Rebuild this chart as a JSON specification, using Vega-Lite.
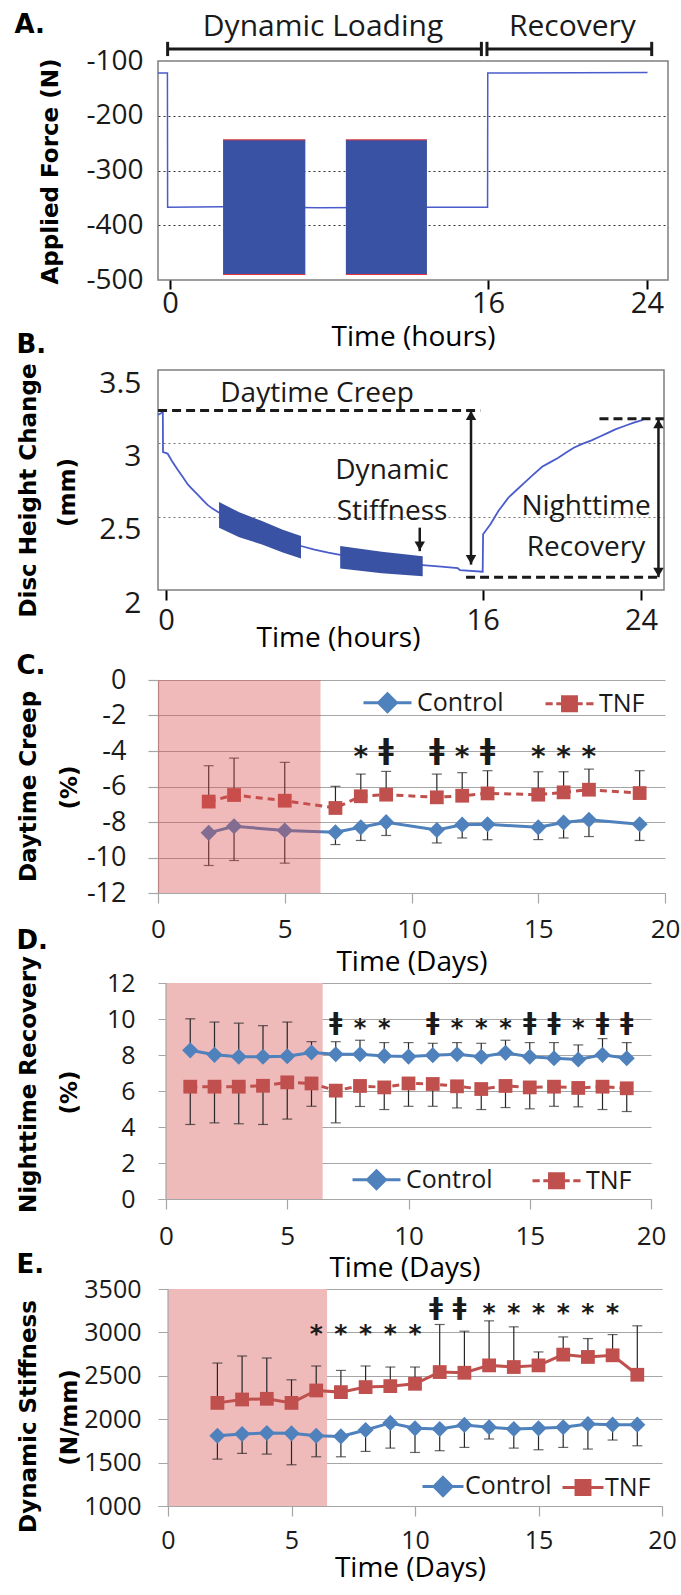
{
 "$schema": "https://vega.github.io/schema/vega-lite/v6.json",
 "background": "white",
 "padding": {"left": 13, "top": 10, "right": 5, "bottom": 0},
 "bounds": "flush",
 "spacing": 90,
 "datasets": {
  "lineA": [{"t":-0.6,"v":-122},{"t":-0.13,"v":-122},{"t":-0.12,"v":-367},{"t":2.7,"v":-366},{"t":7.5,"v":-368},{"t":12.9,"v":-367},{"t":15.98,"v":-367},{"t":15.99,"v":-122},{"t":24.03,"v":-121}],
  "blocksA": [{"t":2.67,"t2":6.81,"v":-244,"v2":-490},{"t":8.85,"t2":12.93,"v":-244,"v2":-490}],
  "edgesA": [{"t":2.67,"t2":6.81,"v":-244},{"t":2.67,"t2":6.81,"v":-490},{"t":8.85,"t2":12.93,"v":-244},{"t":8.85,"t2":12.93,"v":-490}],
  "bracketA": [{"t":-0.12,"t2":15.67,"v":-78,"v2":-78},{"t":15.95,"t2":24.24,"v":-78,"v2":-78},{"t":-0.12,"t2":-0.12,"v":-65,"v2":-91},{"t":15.67,"t2":15.67,"v":-65,"v2":-91},{"t":15.95,"t2":15.95,"v":-65,"v2":-91},{"t":24.24,"t2":24.24,"v":-65,"v2":-91}],
  "textA": [{"t":7.7,"v":-54,"label":"Dynamic Loading"},{"t":20.25,"v":-54,"label":"Recovery"}],
  "lineB": [{"t":-0.4,"v":3.195},{"t":-0.25,"v":3.205},{"t":-0.16,"v":3.215},{"t":-0.15,"v":2.94},{"t":0.08,"v":2.93},{"t":0.3,"v":2.88},{"t":0.59,"v":2.82},{"t":0.85,"v":2.77},{"t":1.1,"v":2.72},{"t":1.35,"v":2.685},{"t":1.6,"v":2.65},{"t":1.85,"v":2.615},{"t":2.1,"v":2.58},{"t":2.35,"v":2.555},{"t":2.65,"v":2.53},{"t":4.7,"v":2.38},{"t":6.82,"v":2.3},{"t":7.5,"v":2.275},{"t":8.2,"v":2.255},{"t":8.8,"v":2.24},{"t":10.9,"v":2.19},{"t":12.97,"v":2.17},{"t":13.9,"v":2.16},{"t":14.74,"v":2.15},{"t":14.85,"v":2.135},{"t":16.0,"v":2.125},{"t":16.02,"v":2.38},{"t":16.4,"v":2.45},{"t":16.8,"v":2.54},{"t":17.3,"v":2.63},{"t":17.7,"v":2.68},{"t":18.1,"v":2.73},{"t":18.5,"v":2.78},{"t":19.0,"v":2.84},{"t":19.4,"v":2.87},{"t":19.8,"v":2.9},{"t":20.2,"v":2.935},{"t":20.6,"v":2.97},{"t":21.0,"v":2.995},{"t":21.5,"v":3.02},{"t":21.9,"v":3.045},{"t":22.3,"v":3.07},{"t":22.7,"v":3.095},{"t":23.2,"v":3.12},{"t":23.6,"v":3.14},{"t":24.1,"v":3.16}],
  "blocksB": [{"b":1,"t":2.68,"v":2.6,"v2":2.425},{"b":1,"t":3.7,"v":2.53,"v2":2.36},{"b":1,"t":4.85,"v":2.47,"v2":2.31},{"b":1,"t":5.9,"v":2.41,"v2":2.255},{"b":1,"t":6.82,"v":2.368,"v2":2.214},{"b":2,"t":8.8,"v":2.3,"v2":2.146},{"b":2,"t":10.9,"v":2.26,"v2":2.115},{"b":2,"t":12.97,"v":2.23,"v2":2.094}],
  "dashB": [{"t":-0.4,"t2":15.88,"v":3.224},{"t":21.9,"t2":25.15,"v":3.167},{"t":15.16,"t2":25.0,"v":2.087}],
  "arrowsB": [{"t":15.41,"v":3.224,"v2":2.173},{"t":24.88,"v":3.167,"v2":2.087},{"t":12.82,"v":2.425,"v2":2.265}],
  "headsB": [{"t":15.41,"v":3.19,"d":"up"},{"t":15.41,"v":2.207,"d":"down"},{"t":24.88,"v":3.133,"d":"up"},{"t":24.88,"v":2.121,"d":"down"},{"t":12.82,"v":2.3,"d":"down"}],
  "textB": [{"t":7.63,"v":3.28,"label":"Daytime Creep"},{"t":11.42,"v":2.755,"label":"Dynamic"},{"t":11.42,"v":2.475,"label":"Stiffness"},{"t":21.22,"v":2.51,"label":"Nighttime"},{"t":21.22,"v":2.23,"label":"Recovery"}],
  "dC": [
   {"s":"Control","t":2,"v":-8.61,"e":-10.45},{"s":"Control","t":3,"v":-8.24,"e":-10.17},{"s":"Control","t":5,"v":-8.48,"e":-10.32},{"s":"Control","t":7,"v":-8.58,"e":-9.27},{"s":"Control","t":8,"v":-8.3,"e":-9.04},{"s":"Control","t":9,"v":-8.01,"e":-8.76},{"s":"Control","t":11,"v":-8.45,"e":-9.18},{"s":"Control","t":12,"v":-8.15,"e":-8.9},{"s":"Control","t":13,"v":-8.13,"e":-9.0},{"s":"Control","t":15,"v":-8.3,"e":-8.99},{"s":"Control","t":16,"v":-8.03,"e":-8.9},{"s":"Control","t":17,"v":-7.88,"e":-8.82},{"s":"Control","t":19,"v":-8.13,"e":-9.04},
   {"s":"TNF","t":2,"v":-6.85,"e":-4.83},{"s":"TNF","t":3,"v":-6.48,"e":-4.4},{"s":"TNF","t":5,"v":-6.8,"e":-4.64},{"s":"TNF","t":7,"v":-7.21,"e":-5.99},{"s":"TNF","t":8,"v":-6.55,"e":-5.3},{"s":"TNF","t":9,"v":-6.46,"e":-5.15},{"s":"TNF","t":11,"v":-6.61,"e":-5.3},{"s":"TNF","t":12,"v":-6.52,"e":-5.22},{"s":"TNF","t":13,"v":-6.39,"e":-5.11},{"s":"TNF","t":15,"v":-6.46,"e":-5.17},{"s":"TNF","t":16,"v":-6.33,"e":-5.17},{"s":"TNF","t":17,"v":-6.18,"e":-5.02},{"s":"TNF","t":19,"v":-6.37,"e":-5.11}],
  "sigC": [{"t":8,"v":-4,"m":"*"},{"t":9,"v":-4,"m":"ǂ"},{"t":11,"v":-4,"m":"ǂ"},{"t":12,"v":-4,"m":"*"},{"t":13,"v":-4,"m":"ǂ"},{"t":15,"v":-4,"m":"*"},{"t":16,"v":-4,"m":"*"},{"t":17,"v":-4,"m":"*"}],
  "pinkC": [{"t":0,"t2":6.41,"v":0,"v2":-12}],
  "dD": [
   {"s":"Control","t":1,"v":8.26,"e":10.01},{"s":"Control","t":2,"v":8.01,"e":9.83},{"s":"Control","t":3,"v":7.9,"e":9.77},{"s":"Control","t":4,"v":7.9,"e":9.63},{"s":"Control","t":5,"v":7.93,"e":9.83},{"s":"Control","t":6,"v":8.14,"e":8.74},{"s":"Control","t":7,"v":8.04,"e":8.74},{"s":"Control","t":8,"v":8.04,"e":8.82},{"s":"Control","t":9,"v":7.95,"e":8.69},{"s":"Control","t":10,"v":7.91,"e":8.69},{"s":"Control","t":11,"v":7.99,"e":8.65},{"s":"Control","t":12,"v":8.04,"e":8.69},{"s":"Control","t":13,"v":7.9,"e":8.65},{"s":"Control","t":14,"v":8.12,"e":8.82},{"s":"Control","t":15,"v":7.9,"e":8.69},{"s":"Control","t":16,"v":7.82,"e":8.69},{"s":"Control","t":17,"v":7.75,"e":8.56},{"s":"Control","t":18,"v":8.01,"e":8.91},{"s":"Control","t":19,"v":7.82,"e":8.69},
   {"s":"TNF","t":1,"v":6.24,"e":4.14},{"s":"TNF","t":2,"v":6.24,"e":4.23},{"s":"TNF","t":3,"v":6.24,"e":4.18},{"s":"TNF","t":4,"v":6.29,"e":4.14},{"s":"TNF","t":5,"v":6.48,"e":4.44},{"s":"TNF","t":6,"v":6.42,"e":5.15},{"s":"TNF","t":7,"v":6.02,"e":4.23},{"s":"TNF","t":8,"v":6.28,"e":5.14},{"s":"TNF","t":9,"v":6.2,"e":4.97},{"s":"TNF","t":10,"v":6.42,"e":5.15},{"s":"TNF","t":11,"v":6.39,"e":5.15},{"s":"TNF","t":12,"v":6.26,"e":5.06},{"s":"TNF","t":13,"v":6.11,"e":4.97},{"s":"TNF","t":14,"v":6.28,"e":5.08},{"s":"TNF","t":15,"v":6.2,"e":5.01},{"s":"TNF","t":16,"v":6.24,"e":5.15},{"s":"TNF","t":17,"v":6.17,"e":5.12},{"s":"TNF","t":18,"v":6.24,"e":4.97},{"s":"TNF","t":19,"v":6.15,"e":4.86}],
  "sigD": [{"t":7,"v":9.8,"m":"ǂ"},{"t":8,"v":9.8,"m":"*"},{"t":9,"v":9.8,"m":"*"},{"t":11,"v":9.8,"m":"ǂ"},{"t":12,"v":9.8,"m":"*"},{"t":13,"v":9.8,"m":"*"},{"t":14,"v":9.8,"m":"*"},{"t":15,"v":9.8,"m":"ǂ"},{"t":16,"v":9.8,"m":"ǂ"},{"t":17,"v":9.8,"m":"*"},{"t":18,"v":9.8,"m":"ǂ"},{"t":19,"v":9.8,"m":"ǂ"}],
  "pinkD": [{"t":0,"t2":6.46,"v":0,"v2":12}],
  "axD": [{"t":0,"v":0,"v2":12}],
  "dE": [
   {"s":"Control","t":2,"v":1810,"e":1540},{"s":"Control","t":3,"v":1829,"e":1606},{"s":"Control","t":4,"v":1841,"e":1598},{"s":"Control","t":5,"v":1837,"e":1475},{"s":"Control","t":6,"v":1810,"e":1567},{"s":"Control","t":7,"v":1802,"e":1567},{"s":"Control","t":8,"v":1876,"e":1629},{"s":"Control","t":9,"v":1957,"e":1667},{"s":"Control","t":10,"v":1895,"e":1617},{"s":"Control","t":11,"v":1887,"e":1637},{"s":"Control","t":12,"v":1934,"e":1675},{"s":"Control","t":13,"v":1907,"e":1772},{"s":"Control","t":14,"v":1887,"e":1667},{"s":"Control","t":15,"v":1895,"e":1648},{"s":"Control","t":16,"v":1907,"e":1675},{"s":"Control","t":17,"v":1945,"e":1656},{"s":"Control","t":18,"v":1937,"e":1760},{"s":"Control","t":19,"v":1937,"e":1694},
   {"s":"TNF","t":2,"v":2188,"e":2647},{"s":"TNF","t":3,"v":2227,"e":2728},{"s":"TNF","t":4,"v":2235,"e":2705},{"s":"TNF","t":5,"v":2188,"e":2454},{"s":"TNF","t":6,"v":2331,"e":2613},{"s":"TNF","t":7,"v":2312,"e":2562},{"s":"TNF","t":8,"v":2370,"e":2613},{"s":"TNF","t":9,"v":2381,"e":2601},{"s":"TNF","t":10,"v":2408,"e":2601},{"s":"TNF","t":11,"v":2543,"e":3091},{"s":"TNF","t":12,"v":2535,"e":3014},{"s":"TNF","t":13,"v":2620,"e":3133},{"s":"TNF","t":14,"v":2601,"e":3064},{"s":"TNF","t":15,"v":2620,"e":2775},{"s":"TNF","t":16,"v":2744,"e":2948},{"s":"TNF","t":17,"v":2717,"e":2929},{"s":"TNF","t":18,"v":2736,"e":2975},{"s":"TNF","t":19,"v":2512,"e":3076}],
  "sigE": [{"t":6,"v":3045,"m":"*"},{"t":7,"v":3045,"m":"*"},{"t":8,"v":3045,"m":"*"},{"t":9,"v":3045,"m":"*"},{"t":10,"v":3045,"m":"*"},{"t":10.85,"v":3290,"m":"ǂ"},{"t":11.8,"v":3290,"m":"ǂ"},{"t":13,"v":3290,"m":"*"},{"t":14,"v":3290,"m":"*"},{"t":15,"v":3290,"m":"*"},{"t":16,"v":3290,"m":"*"},{"t":17,"v":3290,"m":"*"},{"t":18,"v":3290,"m":"*"}],
  "pinkE": [{"t":0,"t2":6.44,"v":1000,"v2":3500}],
  "axE": [{"t":0,"v":1000,"v2":3500}]
 },
 "vconcat": [
  {
   "width": 510, "height": 219,
   "view": {"stroke": "#7f7f7f", "strokeWidth": 1.5},
   "layer": [
    {
     "encoding": {
      "x": {"field": "t", "type": "quantitative", "scale": {"domain": [-0.604, 25.06], "nice": false, "zero": false},
       "axis": {"values": [0, 16, 24], "title": "Time (hours)", "grid": false, "domain": false, "ticks": true, "tickSize": 9, "tickWidth": 2, "tickColor": "#000", "labelPadding": 0, "labelFontSize": 29, "titleY": 65}},
      "y": {"field": "v", "type": "quantitative", "scale": {"domain": [-500, -100], "nice": false, "zero": false},
       "axis": {"orient": "left", "values": [-500, -400, -300, -200, -100], "title": "Applied Force (N)", "grid": true, "gridDash": [2, 3], "gridColor": "#333", "gridWidth": 1.2, "gridOpacity": {"condition": {"test": "datum.value === -100 || datum.value === -500", "value": 0}, "value": 1}, "domain": false, "ticks": false, "labelPadding": 15, "labelFontSize": 28, "labelExpr": "replace(datum.label, '−', '-')", "titleX": -101, "titleY": 110}}
     },
     "layer": [
      {"data": {"name": "lineA"}, "mark": {"type": "line", "color": "#4a5ccc", "strokeWidth": 1.5}},
      {"data": {"name": "blocksA"}, "mark": {"type": "rect", "color": "#3a52a3"}, "encoding": {"x2": {"field": "t2"}, "y2": {"field": "v2"}}},
      {"data": {"name": "edgesA"}, "mark": {"type": "rule", "color": "#e8323c", "strokeWidth": 1}, "encoding": {"x2": {"field": "t2"}}},
      {"data": {"name": "bracketA"}, "mark": {"type": "rule", "color": "#1a1a1a", "strokeWidth": 3}, "encoding": {"x2": {"field": "t2"}, "y2": {"field": "v2"}}},
      {"data": {"name": "textA"}, "mark": {"type": "text", "fontSize": 30, "align": "center", "baseline": "alphabetic", "color": "#1a1a1a"}, "encoding": {"text": {"field": "label", "type": "nominal"}}}
     ]
    },
    {
     "data": {"name": "lineA"}, "transform": [{"filter": "false"}], "mark": "point",
     "encoding": {
      "x": {"field": "t", "type": "quantitative", "scale": {"domain": [-0.604, 25.06], "nice": false, "zero": false},
       "axis": {"orient": "top", "title": "A.", "labels": false, "ticks": false, "domain": false, "grid": false, "titleX": -144, "titleY": -29, "titleAlign": "left", "titleAngle": 0, "titleBaseline": "alphabetic", "titleFont": "DejaVu Sans", "titleFontSize": 26, "titleFontWeight": "bold", "titleColor": "#000"}}
     }
    }
   ],
   "resolve": {"scale": {"x": "independent"}}
  },
  {
   "width": 506, "height": 220,
   "view": {"stroke": "#7f7f7f", "strokeWidth": 1.5},
   "layer": [
    {
     "encoding": {
      "x": {"field": "t", "type": "quantitative", "scale": {"domain": [-0.404, 25.16], "nice": false, "zero": false},
       "axis": {"values": [0, 16, 24], "title": "Time (hours)", "grid": false, "domain": false, "ticks": true, "tickSize": 10, "tickWidth": 2, "tickColor": "#000", "labelPadding": 6, "labelFontSize": 29, "titleX": 180, "titleY": 56}},
      "y": {"field": "v", "type": "quantitative", "scale": {"domain": [2, 3.5], "nice": false, "zero": false},
       "axis": {"orient": "left", "values": [2, 2.5, 3, 3.5], "format": "~g", "title": "Disc Height Change", "grid": true, "gridDash": [2, 3], "gridColor": "#777", "gridWidth": 1.2, "gridOpacity": {"condition": {"test": "datum.value === 2 || datum.value === 3.5", "value": 0}, "value": 1}, "domain": false, "ticks": false, "labelPadding": 17, "labelOffset": 13, "labelFontSize": 30, "titleX": -123, "titleY": 120}}
     },
     "layer": [
      {"data": {"name": "lineB"}, "mark": {"type": "line", "color": "#4a5ccc", "strokeWidth": 1.8}},
      {"data": {"name": "blocksB"}, "mark": {"type": "area", "color": "#3a52a3", "opacity": 1}, "encoding": {"y2": {"field": "v2"}, "detail": {"field": "b", "type": "nominal"}}},
      {"data": {"name": "dashB"}, "mark": {"type": "rule", "color": "#1a1a1a", "strokeWidth": 3, "strokeDash": [9, 5]}, "encoding": {"x2": {"field": "t2"}}},
      {"data": {"name": "arrowsB"}, "mark": {"type": "rule", "color": "#1a1a1a", "strokeWidth": 2.5}, "encoding": {"y2": {"field": "v2"}}},
      {"data": {"name": "headsB"}, "mark": {"type": "point", "filled": true, "color": "#1a1a1a", "size": 110, "opacity": 1}, "encoding": {"shape": {"field": "d", "type": "nominal", "scale": {"domain": ["up", "down"], "range": ["triangle-up", "triangle-down"]}, "legend": null}}},
      {"data": {"name": "textB"}, "mark": {"type": "text", "fontSize": 28, "align": "center", "baseline": "alphabetic", "color": "#1a1a1a"}, "encoding": {"text": {"field": "label", "type": "nominal"}}}
     ]
    },
    {
     "data": {"name": "lineB"}, "transform": [{"filter": "false"}], "mark": "point",
     "encoding": {
      "x": {"field": "t", "type": "quantitative", "scale": {"domain": [-0.404, 25.16], "nice": false, "zero": false},
       "axis": {"orient": "top", "title": "B.", "labels": false, "ticks": false, "domain": false, "grid": false, "titleX": -142, "titleY": -18, "titleAlign": "left", "titleAngle": 0, "titleBaseline": "alphabetic", "titleFont": "DejaVu Sans", "titleFontSize": 26, "titleFontWeight": "bold", "titleColor": "#000"}},
      "y": {"field": "v", "type": "quantitative", "scale": {"domain": [2, 3.5], "nice": false, "zero": false},
       "axis": {"orient": "left", "title": "(mm)", "labels": false, "ticks": false, "domain": false, "grid": false, "titleX": -84, "titleY": 122}}
     }
    }
   ],
   "resolve": {"scale": {"x": "independent", "y": "independent"}}
  },
  {
   "width": 507, "height": 213,
   "layer": [
    {
     "encoding": {
      "x": {"field": "t", "type": "quantitative", "scale": {"domain": [0, 20], "nice": false, "zero": false},
       "axis": {"values": [0, 5, 10, 15, 20], "title": "Time (Days)", "grid": false, "domain": true, "domainColor": "#a6a6a6", "domainWidth": 1.2, "ticks": true, "tickSize": 10, "tickColor": "#a6a6a6", "tickWidth": 1.2, "labelPadding": 13, "labelFontSize": 26, "titleY": 77}},
      "y": {"field": "v", "type": "quantitative", "scale": {"domain": [-12, 0], "nice": false, "zero": false},
       "axis": {"orient": "left", "values": [-12, -10, -8, -6, -4, -2, 0], "title": "Daytime Creep", "grid": true, "gridColor": "#a6a6a6", "gridWidth": 1.2, "domain": true, "domainColor": "#a6a6a6", "domainWidth": 1.2, "ticks": true, "tickSize": 10, "tickColor": "#a6a6a6", "tickWidth": 1.2, "labelPadding": 22, "labelFontSize": 27, "labelExpr": "replace(datum.label, '−', '-')", "titleX": -123, "titleY": 106}}
     },
     "layer": [
      {"data": {"name": "dC"}, "mark": {"type": "errorbar", "ticks": true, "size": 10, "thickness": 1.2, "color": "#262626"}, "encoding": {"y2": {"field": "e"}}},
      {"data": {"name": "dC"}, "transform": [{"filter": "datum.s === 'Control'"}], "mark": {"type": "line", "color": "#4f81bd", "strokeWidth": 3}},
      {"data": {"name": "dC"}, "transform": [{"filter": "datum.s === 'TNF'"}], "mark": {"type": "line", "color": "#c0504d", "strokeWidth": 3, "strokeDash": [7, 5]}},
      {"data": {"name": "dC"}, "transform": [{"filter": "datum.s === 'Control'"}], "mark": {"type": "point", "filled": true, "shape": "diamond", "size": 260, "color": "#4f81bd", "opacity": 1}},
      {"data": {"name": "dC"}, "transform": [{"filter": "datum.s === 'TNF'"}], "mark": {"type": "point", "filled": true, "shape": "square", "size": 190, "color": "#c0504d", "opacity": 1}},
      {"data": {"name": "dC"}, "transform": [{"filter": "false"}], "mark": {"type": "point", "filled": true, "strokeWidth": 3, "opacity": 1},
       "encoding": {
        "fill": {"field": "s", "type": "nominal", "scale": {"domain": ["Control", "TNF"], "range": ["#4f81bd", "#c0504d"]}, "legend": {"orient": "none", "legendX": 204, "legendY": -3, "direction": "horizontal", "title": null, "symbolSize": 2304, "symbolStrokeWidth": 3, "labelFontSize": 25, "labelOffset": 4, "columnPadding": 35, "padding": 0}},
        "stroke": {"field": "s", "type": "nominal", "scale": {"domain": ["Control", "TNF"], "range": ["#4f81bd", "#c0504d"]}, "legend": {"orient": "none", "legendX": 204, "legendY": -3, "direction": "horizontal", "title": null, "symbolSize": 2304, "symbolStrokeWidth": 3, "labelFontSize": 25, "labelOffset": 4, "columnPadding": 35, "padding": 0}},
        "shape": {"field": "s", "type": "nominal", "scale": {"domain": ["Control", "TNF"], "range": ["M-1,0H1M0,-0.375L0.375,0L0,0.375L-0.375,0Z", "M-1,0H-0.7M-0.55,0H-0.3M0.3,0H0.55M0.7,0H1M-0.29,-0.29H0.29V0.29H-0.29Z"]}, "legend": {"orient": "none", "legendX": 204, "legendY": -3, "direction": "horizontal", "title": null, "symbolSize": 2304, "symbolStrokeWidth": 3, "labelFontSize": 25, "labelOffset": 4, "columnPadding": 35, "padding": 0}}
       }},
      {"data": {"name": "sigC"}, "transform": [{"filter": "datum.m === '*'"}], "mark": {"type": "text", "font": "DejaVu Sans", "fontWeight": "bold", "fontSize": 28, "align": "center", "baseline": "middle", "dy": 7, "color": "#1a1a1a"}, "encoding": {"text": {"field": "m", "type": "nominal"}}},
      {"data": {"name": "sigC"}, "transform": [{"filter": "datum.m !== '*'"}], "mark": {"type": "text", "font": "DejaVu Sans", "fontWeight": "bold", "fontSize": 28, "align": "center", "baseline": "middle", "color": "#1a1a1a"}, "encoding": {"text": {"field": "m", "type": "nominal"}}},
      {"data": {"name": "pinkC"}, "mark": {"type": "rect", "color": "#d74949", "opacity": 0.38}, "encoding": {"x2": {"field": "t2"}, "y2": {"field": "v2"}}}
     ]
    },
    {
     "data": {"name": "dC"}, "transform": [{"filter": "false"}], "mark": "point",
     "encoding": {
      "x": {"field": "t", "type": "quantitative", "scale": {"domain": [0, 20], "nice": false, "zero": false},
       "axis": {"orient": "top", "title": "C.", "labels": false, "ticks": false, "domain": false, "grid": false, "titleX": -142, "titleY": -7, "titleAlign": "left", "titleAngle": 0, "titleBaseline": "alphabetic", "titleFont": "DejaVu Sans", "titleFontSize": 26, "titleFontWeight": "bold", "titleColor": "#000"}},
      "y": {"field": "v", "type": "quantitative", "scale": {"domain": [-12, 0], "nice": false, "zero": false},
       "axis": {"orient": "left", "title": "(%)", "labels": false, "ticks": false, "domain": false, "grid": false, "titleX": -82, "titleY": 107}}
     }
    }
   ],
   "resolve": {"scale": {"x": "independent", "y": "independent"}}
  },
  {
   "width": 493, "height": 216,
   "layer": [
    {
     "encoding": {
      "x": {"field": "t", "type": "quantitative", "scale": {"domain": [-0.33, 20], "nice": false, "zero": false},
       "axis": {"values": [0, 5, 10, 15, 20], "title": "Time (Days)", "grid": false, "domain": true, "domainColor": "#a6a6a6", "domainWidth": 1.2, "ticks": true, "tickSize": 10, "tickColor": "#a6a6a6", "tickWidth": 1.2, "labelPadding": 14, "labelFontSize": 26, "titleY": 77}},
      "y": {"field": "v", "type": "quantitative", "scale": {"domain": [0, 12], "nice": false, "zero": false},
       "axis": {"orient": "left", "values": [0, 2, 4, 6, 8, 10, 12], "title": "Nighttime Recovery", "grid": true, "gridColor": "#a6a6a6", "gridWidth": 1.2, "domain": false, "ticks": false, "labelPadding": 23, "labelFontSize": 25, "titleX": -123, "titleY": 101}}
     },
     "layer": [
      {"data": {"name": "pinkD"}, "mark": {"type": "rect", "color": "#efbaba", "opacity": 1}, "encoding": {"x2": {"field": "t2"}, "y2": {"field": "v2"}}},
      {"data": {"name": "axD"}, "mark": {"type": "rule", "color": "#a6a6a6", "strokeWidth": 1.2}, "encoding": {"y2": {"field": "v2"}}},
      {"data": {"name": "dD"}, "mark": {"type": "errorbar", "ticks": true, "size": 10, "thickness": 1.2, "color": "#262626"}, "encoding": {"y2": {"field": "e"}}},
      {"data": {"name": "dD"}, "transform": [{"filter": "datum.s === 'Control'"}], "mark": {"type": "line", "color": "#4f81bd", "strokeWidth": 3}},
      {"data": {"name": "dD"}, "transform": [{"filter": "datum.s === 'TNF'"}], "mark": {"type": "line", "color": "#c0504d", "strokeWidth": 3, "strokeDash": [7, 5]}},
      {"data": {"name": "dD"}, "transform": [{"filter": "datum.s === 'Control'"}], "mark": {"type": "point", "filled": true, "shape": "diamond", "size": 260, "color": "#4f81bd", "opacity": 1}},
      {"data": {"name": "dD"}, "transform": [{"filter": "datum.s === 'TNF'"}], "mark": {"type": "point", "filled": true, "shape": "square", "size": 190, "color": "#c0504d", "opacity": 1}},
      {"data": {"name": "dD"}, "transform": [{"filter": "false"}], "mark": {"type": "point", "filled": true, "strokeWidth": 3, "opacity": 1},
       "encoding": {
        "fill": {"field": "s", "type": "nominal", "scale": {"domain": ["Control", "TNF"], "range": ["#4f81bd", "#c0504d"]}, "legend": {"orient": "none", "legendX": 193, "legendY": 171, "direction": "horizontal", "title": null, "symbolSize": 2304, "symbolStrokeWidth": 3, "labelFontSize": 25, "labelOffset": 4, "columnPadding": 33, "padding": 0}},
        "stroke": {"field": "s", "type": "nominal", "scale": {"domain": ["Control", "TNF"], "range": ["#4f81bd", "#c0504d"]}, "legend": {"orient": "none", "legendX": 193, "legendY": 171, "direction": "horizontal", "title": null, "symbolSize": 2304, "symbolStrokeWidth": 3, "labelFontSize": 25, "labelOffset": 4, "columnPadding": 33, "padding": 0}},
        "shape": {"field": "s", "type": "nominal", "scale": {"domain": ["Control", "TNF"], "range": ["M-1,0H1M0,-0.375L0.375,0L0,0.375L-0.375,0Z", "M-1,0H-0.7M-0.55,0H-0.3M0.3,0H0.55M0.7,0H1M-0.29,-0.29H0.29V0.29H-0.29Z"]}, "legend": {"orient": "none", "legendX": 193, "legendY": 171, "direction": "horizontal", "title": null, "symbolSize": 2304, "symbolStrokeWidth": 3, "labelFontSize": 25, "labelOffset": 4, "columnPadding": 33, "padding": 0}}
       }},
      {"data": {"name": "sigD"}, "transform": [{"filter": "datum.m === '*'"}], "mark": {"type": "text", "font": "DejaVu Sans", "fontWeight": "bold", "fontSize": 24, "align": "center", "baseline": "middle", "dy": 6, "color": "#1a1a1a"}, "encoding": {"text": {"field": "m", "type": "nominal"}}},
      {"data": {"name": "sigD"}, "transform": [{"filter": "datum.m !== '*'"}], "mark": {"type": "text", "font": "DejaVu Sans", "fontWeight": "bold", "fontSize": 24, "align": "center", "baseline": "middle", "color": "#1a1a1a"}, "encoding": {"text": {"field": "m", "type": "nominal"}}}
     ]
    },
    {
     "data": {"name": "dD"}, "transform": [{"filter": "false"}], "mark": "point",
     "encoding": {
      "x": {"field": "t", "type": "quantitative", "scale": {"domain": [-0.33, 20], "nice": false, "zero": false},
       "axis": {"orient": "top", "title": "D.", "labels": false, "ticks": false, "domain": false, "grid": false, "titleX": -142, "titleY": -35, "titleAlign": "left", "titleAngle": 0, "titleBaseline": "alphabetic", "titleFont": "DejaVu Sans", "titleFontSize": 26, "titleFontWeight": "bold", "titleColor": "#000"}},
      "y": {"field": "v", "type": "quantitative", "scale": {"domain": [0, 12], "nice": false, "zero": false},
       "axis": {"orient": "left", "title": "(%)", "labels": false, "ticks": false, "domain": false, "grid": false, "titleX": -82, "titleY": 109}}
     }
    }
   ],
   "resolve": {"scale": {"x": "independent", "y": "independent"}}
  },
  {
   "width": 504, "height": 217,
   "layer": [
    {
     "encoding": {
      "x": {"field": "t", "type": "quantitative", "scale": {"domain": [-0.405, 20], "nice": false, "zero": false},
       "axis": {"values": [0, 5, 10, 15, 20], "title": "Time (Days)", "grid": false, "domain": true, "domainColor": "#a6a6a6", "domainWidth": 1.2, "ticks": true, "tickSize": 10, "tickColor": "#a6a6a6", "tickWidth": 1.2, "labelPadding": 12, "labelFontSize": 25, "titleY": 70}},
      "y": {"field": "v", "type": "quantitative", "scale": {"domain": [1000, 3500], "nice": false, "zero": false},
       "axis": {"orient": "left", "values": [1000, 1500, 2000, 2500, 3000, 3500], "format": "d", "title": "Dynamic Stiffness", "grid": true, "gridColor": "#a6a6a6", "gridWidth": 1.2, "domain": false, "ticks": false, "labelPadding": 17, "labelFontSize": 25, "titleX": -123, "titleY": 127}}
     },
     "layer": [
      {"data": {"name": "pinkE"}, "mark": {"type": "rect", "color": "#efbaba", "opacity": 1}, "encoding": {"x2": {"field": "t2"}, "y2": {"field": "v2"}}},
      {"data": {"name": "axE"}, "mark": {"type": "rule", "color": "#a6a6a6", "strokeWidth": 1.2}, "encoding": {"y2": {"field": "v2"}}},
      {"data": {"name": "dE"}, "mark": {"type": "errorbar", "ticks": true, "size": 10, "thickness": 1.2, "color": "#262626"}, "encoding": {"y2": {"field": "e"}}},
      {"data": {"name": "dE"}, "transform": [{"filter": "datum.s === 'Control'"}], "mark": {"type": "line", "color": "#4f81bd", "strokeWidth": 3}},
      {"data": {"name": "dE"}, "transform": [{"filter": "datum.s === 'TNF'"}], "mark": {"type": "line", "color": "#c0504d", "strokeWidth": 3}},
      {"data": {"name": "dE"}, "transform": [{"filter": "datum.s === 'Control'"}], "mark": {"type": "point", "filled": true, "shape": "diamond", "size": 260, "color": "#4f81bd", "opacity": 1}},
      {"data": {"name": "dE"}, "transform": [{"filter": "datum.s === 'TNF'"}], "mark": {"type": "point", "filled": true, "shape": "square", "size": 190, "color": "#c0504d", "opacity": 1}},
      {"data": {"name": "dE"}, "transform": [{"filter": "false"}], "mark": {"type": "point", "filled": true, "strokeWidth": 3, "opacity": 1},
       "encoding": {
        "fill": {"field": "s", "type": "nominal", "scale": {"domain": ["Control", "TNF"], "range": ["#4f81bd", "#c0504d"]}, "legend": {"orient": "none", "legendX": 263, "legendY": 175, "direction": "horizontal", "title": null, "symbolSize": 1681, "symbolStrokeWidth": 3, "labelFontSize": 25, "labelOffset": 0, "columnPadding": 4, "padding": 0}},
        "stroke": {"field": "s", "type": "nominal", "scale": {"domain": ["Control", "TNF"], "range": ["#4f81bd", "#c0504d"]}, "legend": {"orient": "none", "legendX": 263, "legendY": 175, "direction": "horizontal", "title": null, "symbolSize": 1681, "symbolStrokeWidth": 3, "labelFontSize": 25, "labelOffset": 0, "columnPadding": 4, "padding": 0}},
        "shape": {"field": "s", "type": "nominal", "scale": {"domain": ["Control", "TNF"], "range": ["M-1,0H1M0,-0.44L0.44,0L0,0.44L-0.44,0Z", "M-1,0H1M-0.34,-0.34H0.34V0.34H-0.34Z"]}, "legend": {"orient": "none", "legendX": 263, "legendY": 175, "direction": "horizontal", "title": null, "symbolSize": 1681, "symbolStrokeWidth": 3, "labelFontSize": 25, "labelOffset": 0, "columnPadding": 4, "padding": 0}}
       }},
      {"data": {"name": "sigE"}, "transform": [{"filter": "datum.m === '*'"}], "mark": {"type": "text", "font": "DejaVu Sans", "fontWeight": "bold", "fontSize": 25, "align": "center", "baseline": "middle", "dy": 6, "color": "#1a1a1a"}, "encoding": {"text": {"field": "m", "type": "nominal"}}},
      {"data": {"name": "sigE"}, "transform": [{"filter": "datum.m !== '*'"}], "mark": {"type": "text", "font": "DejaVu Sans", "fontWeight": "bold", "fontSize": 25, "align": "center", "baseline": "middle", "color": "#1a1a1a"}, "encoding": {"text": {"field": "m", "type": "nominal"}}}
     ]
    },
    {
     "data": {"name": "dE"}, "transform": [{"filter": "false"}], "mark": "point",
     "encoding": {
      "x": {"field": "t", "type": "quantitative", "scale": {"domain": [-0.405, 20], "nice": false, "zero": false},
       "axis": {"orient": "top", "title": "E.", "labels": false, "ticks": false, "domain": false, "grid": false, "titleX": -142, "titleY": -17, "titleAlign": "left", "titleAngle": 0, "titleBaseline": "alphabetic", "titleFont": "DejaVu Sans", "titleFontSize": 26, "titleFontWeight": "bold", "titleColor": "#000"}},
      "y": {"field": "v", "type": "quantitative", "scale": {"domain": [1000, 3500], "nice": false, "zero": false},
       "axis": {"orient": "left", "title": "(N/mm)", "labels": false, "ticks": false, "domain": false, "grid": false, "titleX": -82, "titleY": 128}}
     }
    }
   ],
   "resolve": {"scale": {"x": "independent", "y": "independent"}}
  }
 ],
 "resolve": {
  "scale": {"x": "independent", "y": "independent", "fill": "independent", "stroke": "independent", "shape": "independent"},
  "legend": {"fill": "independent", "stroke": "independent", "shape": "independent"}
 },
 "config": {
  "font": "Open Sans",
  "view": {"stroke": null},
  "axis": {"labelFont": "Open Sans", "labelColor": "#1a1a1a", "titleFont": "DejaVu Sans", "titleFontWeight": "bold", "titleColor": "#000", "titleFontSize": 23, "titleBaseline": "alphabetic", "titleLimit": 600, "labelFlush": false, "labelOverlap": false},
  "axisX": {"titleFont": "Open Sans", "titleFontWeight": "normal", "titleFontSize": 28},
  "legend": {"labelFont": "Open Sans", "labelColor": "#1a1a1a", "labelLimit": 0},
  "text": {"font": "Open Sans"}
 }
}
